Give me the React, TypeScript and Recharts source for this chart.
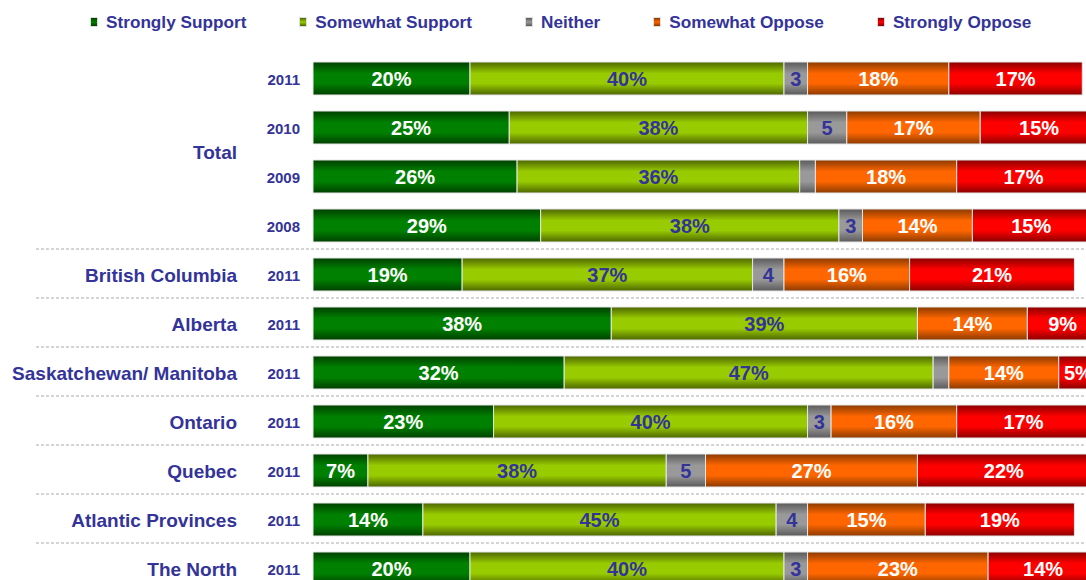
import React from 'react';
import { BarChart, Bar, XAxis, YAxis, LabelList, Legend } from 'recharts';

const groups = ['Total', 'Total', 'Total', 'Total', 'British Columbia', 'Alberta', 'Saskatchewan/ Manitoba', 'Ontario', 'Quebec', 'Atlantic Provinces', 'The North'];
const years = ['2011', '2010', '2009', '2008', '2011', '2011', '2011', '2011', '2011', '2011', '2011'];
const stronglySupport = [20, 25, 26, 29, 19, 38, 32, 23, 7, 14, 20];
const somewhatSupport = [40, 38, 36, 38, 37, 39, 47, 40, 38, 45, 40];
const neither = [3, 5, 2, 3, 4, 0, 2, 3, 5, 4, 3];
const somewhatOppose = [18, 17, 18, 14, 16, 14, 14, 16, 27, 15, 23];
const stronglyOppose = [17, 15, 17, 15, 21, 9, 5, 17, 22, 19, 14];

const seriesNames = ['Strongly Support', 'Somewhat Support', 'Neither', 'Somewhat Oppose', 'Strongly Oppose'];
const seriesKeys = ['ss', 'sws', 'ne', 'swo', 'so'];
const seriesMid = ['#008000', '#99cc00', '#999999', '#ff6600', '#ff0000'];
const seriesEdge = ['#004000', '#4d6600', '#5a5a5a', '#8a3a00', '#8a0000'];
const labelColors = ['#ffffff', '#333399', '#333399', '#ffffff', '#ffffff'];

const data = years.map((y, i) => ({
  key: `${groups[i]}|${y}|${i}`,
  ss: stronglySupport[i],
  sws: somewhatSupport[i],
  ne: neither[i],
  swo: somewhatOppose[i],
  so: stronglyOppose[i],
}));

const NAVY = '#333399';
const TOP = 54;
const BAND = 49;
const CHART_H = TOP + BAND * years.length + 7;

const RowTick = (props: any) => {
  const { y, index } = props;
  const g = groups[index];
  const first = index === 0 || groups[index - 1] !== g;
  const last = index === groups.length - 1 || groups[index + 1] !== g;
  let n = 0;
  if (first) {
    for (let k = index; k < groups.length && groups[k] === g; k++) n++;
  }
  return (
    <g>
      <text x={300} y={y} dy="0.42em" textAnchor="end" fill={NAVY} fontSize={15} fontWeight="bold">
        {years[index]}
      </text>
      {first && (
        <text x={237} y={y + ((n - 1) * BAND) / 2} dy="0.38em" textAnchor="end" fill={NAVY} fontSize={19} fontWeight="bold">
          {g}
        </text>
      )}
      {last && index !== groups.length - 1 && (
        <line x1={36} x2={1086} y1={y + BAND / 2 - 1} y2={y + BAND / 2 - 1} stroke="#aaaaaa" strokeDasharray="3 2" strokeWidth={1} />
      )}
    </g>
  );
};

const LegendContent = () => (
  <div style={{ display: 'flex', paddingLeft: 90, gap: 53, alignItems: 'center' }}>
    {seriesNames.map((n, i) => (
      <div key={n} style={{ display: 'flex', alignItems: 'center' }}>
        <div
          style={{
            width: 8,
            height: 10,
            marginRight: 8,
            background: `linear-gradient(to bottom, ${seriesEdge[i]}, ${seriesMid[i]} 50%, ${seriesEdge[i]})`,
            border: '1px solid #ddd',
            boxSizing: 'border-box',
          }}
        />
        <span style={{ color: NAVY, fontSize: 17.2, fontWeight: 'bold', lineHeight: '20px' }}>{n}</span>
      </div>
    ))}
  </div>
);

const pct = (v: any) => (v ? `${v}%` : '');
const num = (v: any) => (v >= 3 ? `${v}` : '');

export default function App() {
  return (
    <div
      style={{
        position: 'fixed',
        left: 0,
        top: 0,
        width: 1086,
        height: 580,
        overflow: 'hidden',
        background: '#fff',
        fontFamily: 'Arial, "Liberation Sans", sans-serif',
      }}
    >
      <BarChart
        width={1100}
        height={CHART_H}
        data={data}
        layout="vertical"
        margin={{ top: TOP, right: 2, bottom: 7, left: 0 }}
      >
        <defs>
          {seriesKeys.map((k, i) => (
            <linearGradient key={k} id={`grad-${k}`} x1="0" y1="0" x2="0" y2="1">
              <stop offset="0%" stopColor={seriesEdge[i]} />
              <stop offset="35%" stopColor={seriesMid[i]} />
              <stop offset="65%" stopColor={seriesMid[i]} />
              <stop offset="100%" stopColor={seriesEdge[i]} />
            </linearGradient>
          ))}
        </defs>
        <XAxis type="number" domain={[0, 100]} hide />
        <YAxis
          type="category"
          dataKey="key"
          width={313}
          axisLine={false}
          tickLine={false}
          interval={0}
          tick={<RowTick />}
        />
        <Legend
          layout="horizontal"
          verticalAlign="middle"
          align="center"
          content={<LegendContent />}
          wrapperStyle={{ top: 12, left: 0, width: 1086 }}
        />
        {seriesKeys.map((k, i) => (
          <Bar
            key={k}
            dataKey={k}
            name={seriesNames[i]}
            stackId="a"
            barSize={33}
            fill={`url(#grad-${k})`}
            stroke="#e6e6e6"
            strokeWidth={1}
            isAnimationActive={false}
          >
            <LabelList
              dataKey={k}
              position="center"
              fill={labelColors[i]}
              fontSize={20}
              fontWeight="bold"
              formatter={k === 'ne' ? num : pct}
            />
          </Bar>
        ))}
      </BarChart>
    </div>
  );
}
